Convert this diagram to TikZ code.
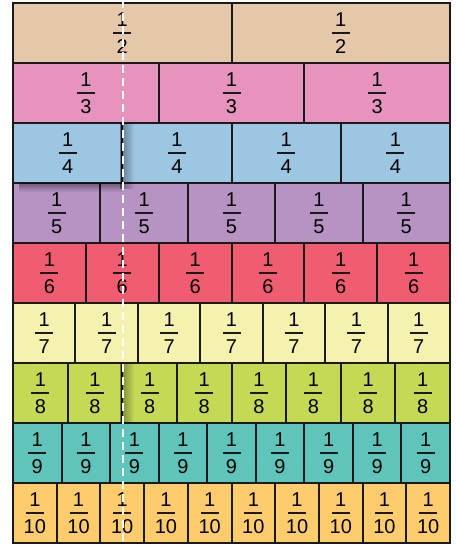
\documentclass[tikz,border=0pt]{standalone}
\usepackage{fontspec}
\setmainfont{Liberation Sans}
\usetikzlibrary{fadings}
\definecolor{c2}{HTML}{E5C8A9}
\definecolor{c3}{HTML}{E693BD}
\definecolor{c4}{HTML}{9DC6E3}
\definecolor{c5}{HTML}{B793C4}
\definecolor{c6}{HTML}{F05C70}
\definecolor{c7}{HTML}{F5F2AF}
\definecolor{c8}{HTML}{C5D954}
\definecolor{c9}{HTML}{5FC4B9}
\definecolor{c10}{HTML}{FECC6C}
\definecolor{edge}{HTML}{1A1A1A}
\tikzset{
  cell/.style={draw=edge, line width=2pt, minimum height=60pt, inner sep=0pt, outer sep=0pt},
  digit/.style={inner sep=0pt, outer sep=0pt, font=\fontsize{20}{21}\selectfont},
  fracbar/.style={draw=edge, line width=1.7pt},
  dashline/.style={white, line width=2.8pt, dash pattern=on 8pt off 5pt},
  shade/.style={black, opacity=0.4}
}
\begin{document}
\begin{tikzpicture}[x=1pt,y=-1pt]
\useasboundingbox (0,0) rectangle (456,545);
\fill[white] (0,0) rectangle (456,545);
% cells
\foreach \n in {2,...,10}{
  \pgfmathsetmacro\w{437/\n}
  \pgfmathsetmacro\yc{3+60*(\n-2)+30}
  \foreach \k in {1,...,\n}{
    \pgfmathsetmacro\xc{13+\w*(\k-0.5)}
    \node[cell, fill=c\n, minimum width=\w pt] (c-\n-\k) at (\xc,\yc) {};
  }
}
% shadows
\fill[shade, path fading=east] ([xshift=-2pt]c-4-1.north east) rectangle ([xshift=12pt,yshift=-6pt]c-4-1.south east);
\fill[shade, path fading=south] ([xshift=6pt]c-4-1.south west) rectangle ([yshift=-9pt]c-4-1.south east);
\fill[shade, path fading=east] ([xshift=-2pt]c-8-2.north east) rectangle ([xshift=12pt]c-8-2.south east);
% fractions
\foreach \n in {2,...,10}{
  \pgfmathsetmacro\w{437/\n}
  \pgfmathsetmacro\yc{3+60*(\n-2)+30}
  \foreach \k in {1,...,\n}{
    \pgfmathsetmacro\xc{13+\w*(\k-0.5)}
    \node[digit] (n-\n-\k) at (\xc,\yc-13.5) {1};
    \node[digit] (d-\n-\k) at (\xc,\yc+13.5) {\n};
    \coordinate (bl-\n-\k) at (\xc-9,\yc);
    \coordinate (br-\n-\k) at (\xc+9,\yc);
    \draw[fracbar] (bl-\n-\k) -- (br-\n-\k);
  }
}
% dashed line
\coordinate (dtop) at (123,0);
\coordinate (dbot) at (123,545);
\draw[dashline] (dtop) -- (dbot);
\end{tikzpicture}
\end{document}
